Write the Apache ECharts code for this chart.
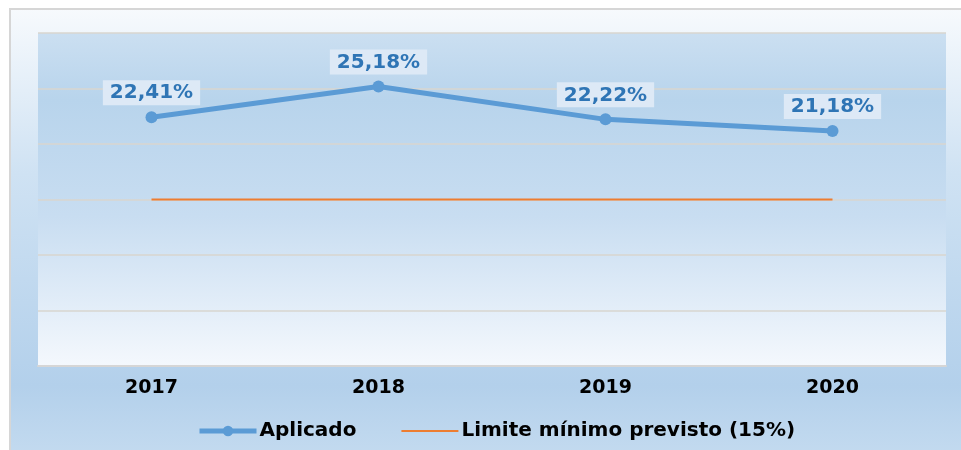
<!DOCTYPE html>
<html>
<head>
<meta charset="utf-8">
<script src="https://cdn.jsdelivr.net/npm/echarts@6/dist/echarts.min.js"></script>
<style>html,body{margin:0;padding:0;background:#fff;}#c{width:961px;height:450px;}</style>
</head>
<body>
<div id="c"></div>
<script>
const categories = ['2017', '2018', '2019', '2020'];
const aplicado = [22.41, 25.18, 22.22, 21.18];
const limite = [15, 15, 15, 15];
const seriesNames = ['Aplicado', 'Limite mínimo previsto (15%)'];

const chart = echarts.init(document.getElementById('c'));
const FONT = 'DejaVu Sans';
chart.setOption({
  animation: false,
  graphic: {
    elements: [{
      type: 'rect', z: -10, silent: true,
      shape: { x: 10, y: 9, width: 990, height: 470 },
      style: {
        fill: new echarts.graphic.LinearGradient(0, 0, 0, 1, [
          { offset: 0, color: '#f7fafd' },
          { offset: 0.35, color: '#cfe2f3' },
          { offset: 0.8, color: '#b3d0eb' },
          { offset: 1, color: '#c9def1' }
        ]),
        stroke: '#d6d6d6', lineWidth: 2
      }
    }]
  },
  grid: {
    left: 38, right: 15, top: 33, bottom: 84,
    show: true, borderWidth: 0,
    backgroundColor: new echarts.graphic.LinearGradient(0, 0, 0, 1, [
      { offset: 0, color: '#cbdff1' },
      { offset: 0.2, color: '#b8d4ec' },
      { offset: 0.55, color: '#c8ddf1' },
      { offset: 1, color: '#f4f8fd' }
    ])
  },
  legend: {
    left: 192, top: 416,
    itemWidth: 57, itemHeight: 13, itemGap: 44,
    textStyle: { fontFamily: FONT, fontWeight: 'bold', fontSize: 20, color: '#000', padding: [0, 0, 0, -2] },
    data: [
      { name: seriesNames[0], lineStyle: { width: 5, color: '#5b9bd5' }, itemStyle: { color: '#5b9bd5' } },
      { name: seriesNames[1], lineStyle: { width: 2, color: '#ed7d31' }, itemStyle: { color: '#ed7d31', opacity: 0 } }
    ]
  },
  xAxis: {
    type: 'category', data: categories, boundaryGap: true,
    axisLine: { show: true, lineStyle: { color: '#d6d6d6', width: 2 } },
    axisTick: { show: false },
    axisLabel: { fontFamily: FONT, fontWeight: 'bold', fontSize: 19, color: '#000', margin: 13 }
  },
  yAxis: {
    type: 'value', min: 0, max: 30, interval: 5,
    axisLabel: { show: false }, axisLine: { show: false }, axisTick: { show: false },
    splitLine: { lineStyle: { color: '#d9d6cf', width: 1.5 } }
  },
  series: [
    {
      name: seriesNames[0], type: 'line', data: aplicado,
      symbol: 'circle', symbolSize: 12, z: 5,
      lineStyle: { color: '#5b9bd5', width: 5 },
      itemStyle: { color: '#5b9bd5' },
      label: {
        show: true, position: 'top', distance: 6,
        formatter: p => p.value.toFixed(2).replace('.', ',') + '%',
        fontFamily: FONT, fontWeight: 'bold', fontSize: 20, color: '#2f75b5',
        backgroundColor: '#dde9f6', padding: [3, 7, 2, 7]
      }
    },
    {
      name: seriesNames[1], type: 'line', data: limite,
      symbol: 'none', z: 3,
      lineStyle: { color: '#ed7d31', width: 2 },
      itemStyle: { color: '#ed7d31' }
    }
  ]
});
</script>
</body>
</html>
